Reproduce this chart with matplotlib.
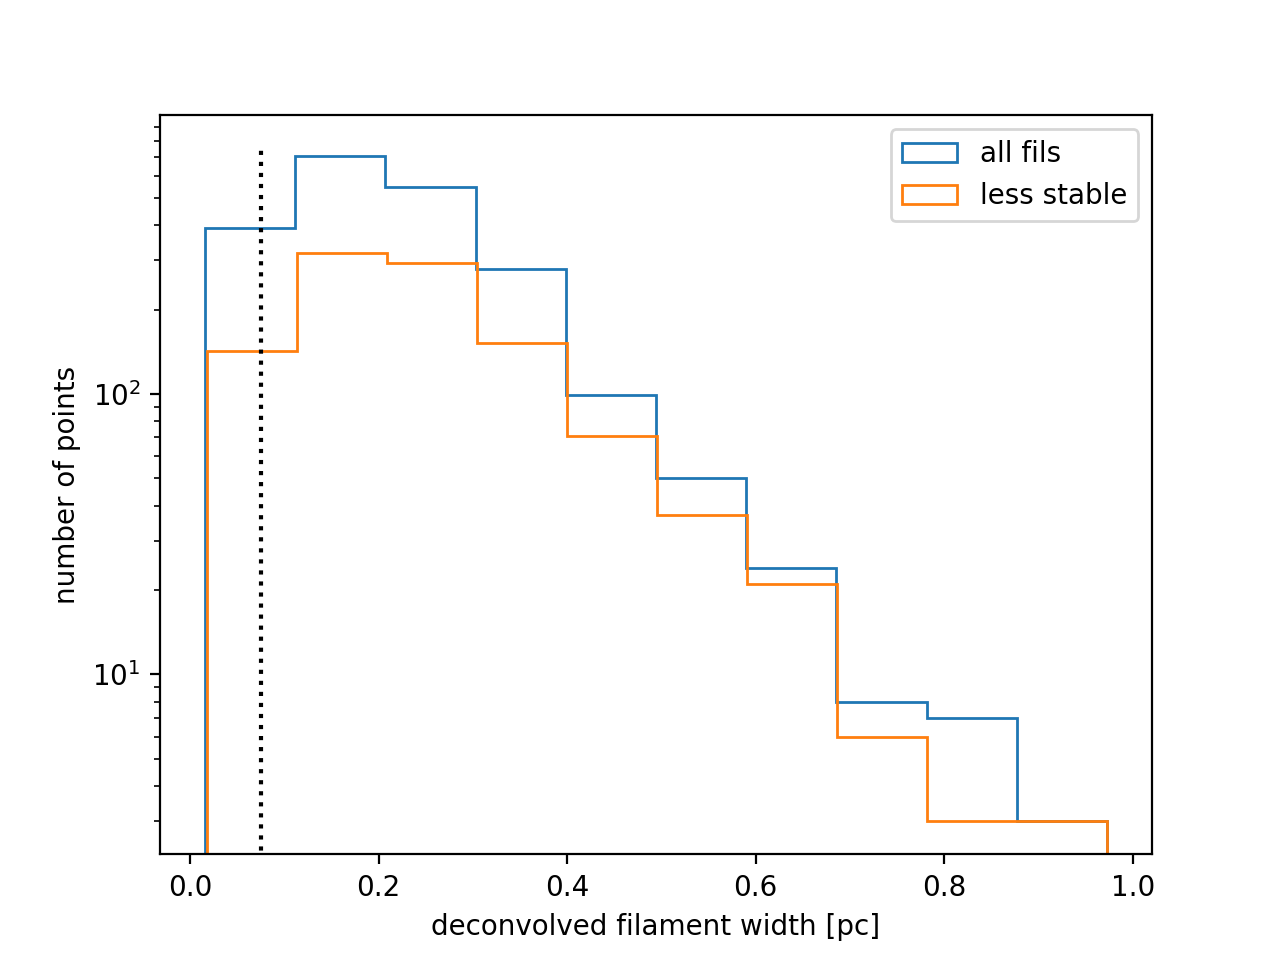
import numpy as np
import matplotlib
matplotlib.use("Agg")
import matplotlib.pyplot as plt

# bin edges (deconvolved filament width, pc)
edges_all = [0.0159, 0.1116, 0.2072, 0.3029, 0.3986, 0.4943, 0.5899, 0.6856,
             0.7813, 0.8769, 0.9726]
edges_less = [0.0184, 0.1138, 0.2092, 0.3047, 0.4001, 0.4955, 0.5909, 0.6863,
              0.7818, 0.8772, 0.9726]

counts_all = [392, 708, 547, 280, 99, 50, 24, 8, 7, 3]
counts_less = [143, 319, 294, 152, 71, 37, 21, 6, 3, 3]

labels = ["all fils", "less stable"]
vline_x = 0.075
vline_top = 750

fig, ax = plt.subplots(figsize=(6.4, 4.8), dpi=200)

centers_all = 0.5 * (np.array(edges_all[:-1]) + np.array(edges_all[1:]))
centers_less = 0.5 * (np.array(edges_less[:-1]) + np.array(edges_less[1:]))

ax.hist(centers_all, bins=edges_all, weights=counts_all, histtype="step",
        label=labels[0], log=True)
ax.hist(centers_less, bins=edges_less, weights=counts_less, histtype="step",
        label=labels[1], log=True)
ax.vlines(vline_x, 0, vline_top, colors="k", linestyles=":", linewidth=1.5)

ax.set_yscale("log")
ax.set_ylim(2.28, 988)
ax.set_xlim(-0.0319, 1.0204)
ax.set_xlabel("deconvolved filament width [pc]")
ax.set_ylabel("number of points")
ax.legend(loc="upper right")

fig.savefig("out.png", dpi=200)
